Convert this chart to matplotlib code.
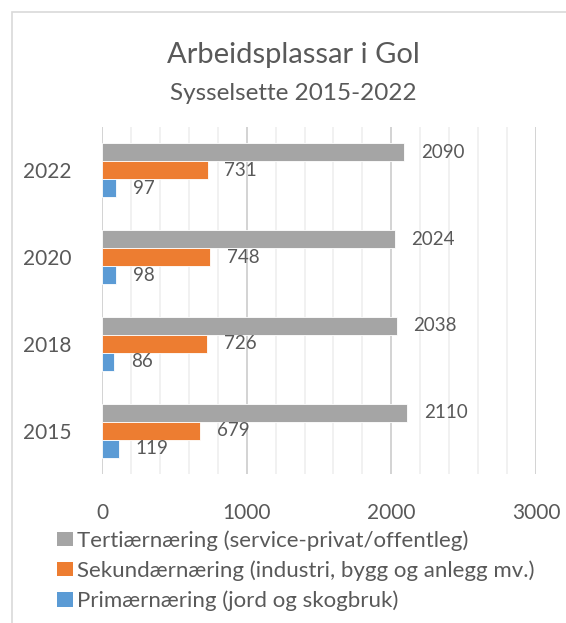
import matplotlib
matplotlib.use("Agg")
import matplotlib.pyplot as plt
import numpy as np
from matplotlib.patches import Patch, Rectangle
from matplotlib.ticker import MultipleLocator

plt.rcParams['font.family'] = ['Lato', 'DejaVu Sans']

years = ["2015", "2018", "2020", "2022"]
tertiar = [2110, 2038, 2024, 2090]
sekundar = [679, 726, 748, 731]
primar = [119, 86, 98, 97]
series_names = ["Tertiærnæring (service-privat/offentleg)",
                "Sekundærnæring (industri, bygg og anlegg mv.)",
                "Primærnæring (jord og skogbruk)"]
colors = ["#A5A5A5", "#ED7D31", "#5B9BD5"]
title = "Arbeidsplassar i Gol"
subtitle = "Sysselsette 2015-2022"
text_color = "#595959"

fig = plt.figure(figsize=(5.66, 6.23), dpi=100)
ax = fig.add_axes([102/566, 1-474/623, (536-102)/566, (474-127)/623])

# chart border (Excel chart area), extends past right edge
fig.patches.append(Rectangle((12/566, -0.1), 1.2, 1-12/623+0.1, transform=fig.transFigure,
                             fill=False, edgecolor="#d9d9d9", linewidth=1.2))

y = np.arange(len(years))
h = 0.208
vals = [tertiar, sekundar, primar]
offsets = [h, 0, -h]
for v, off, c, name in zip(vals, offsets, colors, series_names):
    bars = ax.barh(y + off, v, height=h, color=c, edgecolor="white", linewidth=0.6, label=name, zorder=3)
    ax.bar_label(bars, labels=[str(x) for x in v], padding=12, fontsize=13.5, color=text_color)

ax.set_xlim(0, 3000)
ax.set_ylim(-0.5, 3.5)
ax.set_yticks(y)
ax.set_yticklabels(years)
ax.xaxis.set_major_locator(MultipleLocator(1000))
ax.xaxis.set_minor_locator(MultipleLocator(200))
ax.grid(True, which="major", axis="x", color="#d0d0d0", linewidth=1.3, zorder=0)
ax.grid(True, which="minor", axis="x", color="#ededed", linewidth=1.1, zorder=0)
ax.set_axisbelow(True)
for s in ax.spines.values():
    s.set_visible(False)
ax.tick_params(axis="both", which="both", length=0, labelsize=15, labelcolor=text_color)
ax.tick_params(axis="y", pad=22)
ax.tick_params(axis="x", pad=21)

fig.text(293.5/566, 1-55/623, title, ha="center", va="center", fontsize=21, color=text_color)
fig.text(293.5/566, 1-94/623, subtitle, ha="center", va="center", fontsize=17.5, color=text_color)

handles = [Patch(facecolor=c, edgecolor="none") for c in colors]
fig.legend(handles, series_names, loc="upper left", bbox_to_anchor=(57/566, 1-530/623),
           frameon=False, fontsize=16, labelcolor=text_color,
           handlelength=0.7, handleheight=0.62, handletextpad=0.2, labelspacing=0.44,
           borderpad=0, borderaxespad=0)

fig.savefig("out.png", dpi=100)
